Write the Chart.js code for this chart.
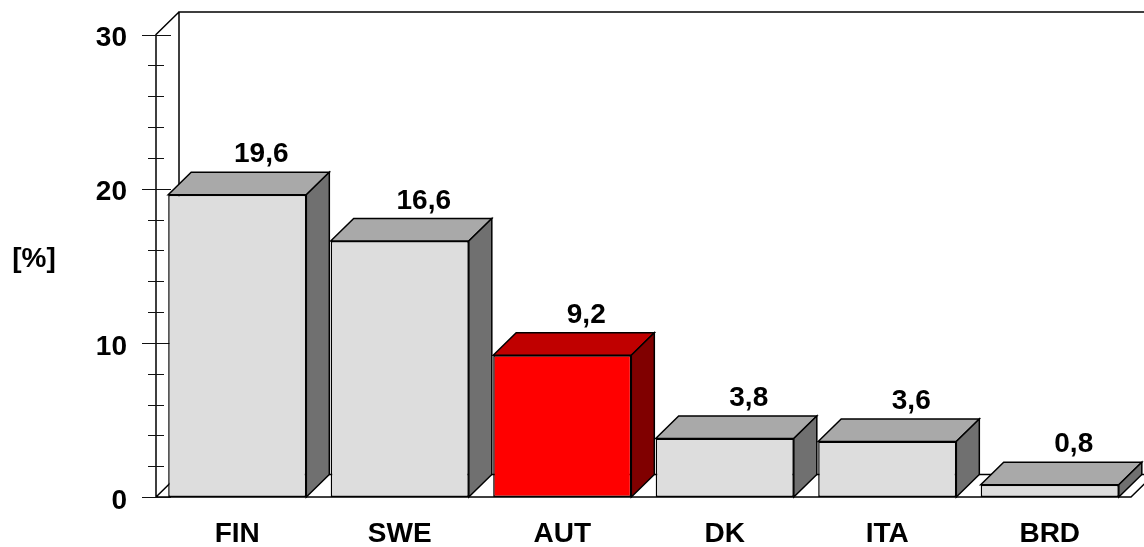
<!DOCTYPE html>
<html>
<head>
<meta charset="utf-8">
<script src="https://cdn.jsdelivr.net/npm/chart.js@4.4.1/dist/chart.umd.min.js"></script>
<style>
  html, body { margin: 0; padding: 0; background: #ffffff; }
  #wrap { width: 1144px; height: 547px; position: relative; }
</style>
</head>
<body>
<div id="wrap"><canvas id="c" width="1144" height="547"></canvas></div>
<script>
// Categories and values (percent)
const categories = ['FIN', 'SWE', 'AUT', 'DK', 'ITA', 'BRD'];
const values = [19.6, 16.6, 9.2, 3.8, 3.6, 0.8];
const highlight = ['AUT'];
const yMajorTicks = [0, 10, 20, 30];
const yAxisTitle = '[%]';

const FONT = '"Liberation Sans", Arial, Helvetica, sans-serif';
const FONT_SIZE = 28;
const DEPTH_X = 23;
const DEPTH_Y = 22.5;

const palette = {
  grey:  { front: '#dddddd', top: '#a9a9a9', side: '#707070' },
  red:   { front: '#ff0000', top: '#c00000', side: '#800000' }
};
const colorsFor = (i) => highlight.includes(categories[i]) ? palette.red : palette.grey;

const fmt = (v) => v.toFixed(1).replace('.', ',');

// Walls, floor and axis ticks behind the bars; top/side faces and labels after
const box3d = {
  id: 'box3d',
  beforeDatasetsDraw(chart) {
    const { ctx, chartArea: a, scales: { y } } = chart;
    ctx.save();
    ctx.strokeStyle = '#000';
    ctx.lineWidth = 1.5;
    ctx.lineCap = 'butt';
    const yTop = y.getPixelForValue(30);
    const yBot = y.getPixelForValue(0);
    ctx.beginPath();
    // left wall
    ctx.moveTo(a.left, yBot); ctx.lineTo(a.left, yTop);
    ctx.lineTo(a.left + DEPTH_X, yTop - DEPTH_Y);
    // back wall
    ctx.moveTo(a.left + DEPTH_X, yBot - DEPTH_Y); ctx.lineTo(a.left + DEPTH_X, yTop - DEPTH_Y);
    ctx.lineTo(a.right + DEPTH_X + 20, yTop - DEPTH_Y);
    // floor
    ctx.moveTo(a.left, yBot); ctx.lineTo(a.left + DEPTH_X, yBot - DEPTH_Y);
    ctx.lineTo(a.right + DEPTH_X, yBot - DEPTH_Y);
    ctx.lineTo(a.right, yBot);
    ctx.lineTo(a.left, yBot);
    ctx.stroke();

    // axis ticks: long at labelled values, short in between
    ctx.lineWidth = 1.2;
    ctx.strokeStyle = '#111';
    ctx.beginPath();
    y.ticks.forEach(t => {
      const py = Math.round(y.getPixelForValue(t.value)) + 0.5;
      const major = yMajorTicks.includes(t.value);
      const l = major ? 14 : 8;
      const r = major ? 15 : 8;
      ctx.moveTo(a.left - l, py); ctx.lineTo(a.left + r, py);
    });
    ctx.stroke();

    // axis title
    ctx.fillStyle = '#000';
    ctx.font = 'bold ' + FONT_SIZE + 'px ' + FONT;
    ctx.textAlign = 'center';
    ctx.textBaseline = 'middle';
    ctx.fillText(yAxisTitle, 34, 259);
    ctx.restore();
  },
  afterDatasetsDraw(chart) {
    const { ctx } = chart;
    const meta = chart.getDatasetMeta(0);
    ctx.save();
    ctx.strokeStyle = '#000';
    ctx.lineWidth = 1.5;
    ctx.lineJoin = 'miter';
    meta.data.forEach((bar, i) => {
      const c = colorsFor(i);
      const L = bar.x - bar.width / 2;
      const R = bar.x + bar.width / 2;
      const T = bar.y;
      const B = bar.base;
      // top face
      ctx.beginPath();
      ctx.moveTo(L, T);
      ctx.lineTo(L + DEPTH_X, T - DEPTH_Y);
      ctx.lineTo(R + DEPTH_X, T - DEPTH_Y);
      ctx.lineTo(R, T);
      ctx.closePath();
      ctx.fillStyle = c.top; ctx.fill(); ctx.stroke();
      // side face
      ctx.beginPath();
      ctx.moveTo(R, T);
      ctx.lineTo(R + DEPTH_X, T - DEPTH_Y);
      ctx.lineTo(R + DEPTH_X, B - DEPTH_Y);
      ctx.lineTo(R, B);
      ctx.closePath();
      ctx.fillStyle = c.side; ctx.fill(); ctx.stroke();
      // value label above the top face
      ctx.fillStyle = '#000';
      ctx.font = 'bold ' + FONT_SIZE + 'px ' + FONT;
      ctx.textAlign = 'center';
      ctx.textBaseline = 'alphabetic';
      ctx.fillText(fmt(values[i]), bar.x + DEPTH_X + 1, T - DEPTH_Y - 10);
    });
    ctx.restore();
  }
};

new Chart(document.getElementById('c'), {
  type: 'bar',
  data: {
    labels: categories,
    datasets: [{
      data: values,
      backgroundColor: categories.map((_, i) => colorsFor(i).front),
      borderColor: '#000',
      borderWidth: 1.5,
      borderSkipped: false,
      barPercentage: 0.85,
      categoryPercentage: 1.0
    }]
  },
  options: {
    responsive: false,
    animation: false,
    events: [],
    layout: { padding: { left: 0, right: 13, top: 34.5, bottom: 0 } },
    plugins: { legend: { display: false }, tooltip: { enabled: false } },
    scales: {
      x: {
        offset: true,
        grid: { display: false, drawTicks: false },
        border: { display: false },
        ticks: {
          color: '#000',
          font: { family: FONT, size: FONT_SIZE, weight: 'bold' },
          padding: 20,
          maxRotation: 0
        },
        afterFit(s) { s.height = 50; s.paddingLeft = 0; s.paddingRight = 0; }
      },
      y: {
        min: 0,
        max: 30,
        grid: { display: false, drawTicks: false },
        border: { display: false },
        ticks: {
          stepSize: 2,
          autoSkip: false,
          color: '#000',
          font: { family: FONT, size: FONT_SIZE, weight: 'bold' },
          padding: 29,
          labelOffset: 4,
          callback: (v) => yMajorTicks.includes(v) ? String(v) : ''
        },
        afterFit(s) { s.width = 156; s.paddingTop = 0; s.paddingBottom = 0; }
      }
    }
  },
  plugins: [box3d]
});
</script>
</body>
</html>
